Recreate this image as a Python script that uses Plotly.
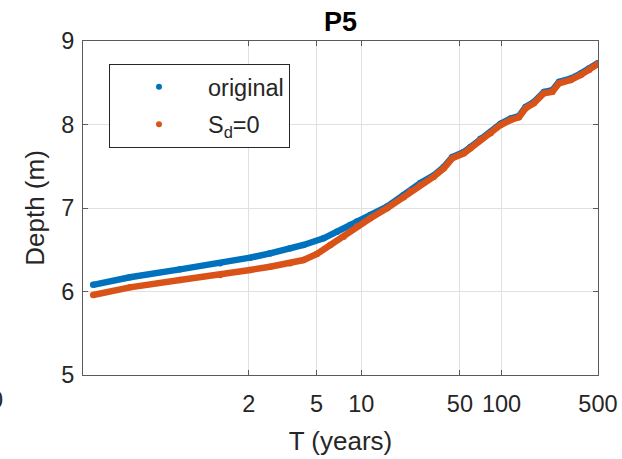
import math
import plotly.graph_objects as go

# Return-period tick labels (x axis is Gumbel reduced variate)
T_ticks = [2, 5, 10, 50, 100, 500]
T_tick_labels = ["2", "5", "10", "50", "100", "500"]

# Series "original" (reduced variate, depth in m)
orig_u = [-2.24, -1.625, -0.786, -0.115, 0.389, 0.724, 1.06, 1.283, 1.619, 1.843,
          2.067, 2.179, 2.402, 2.682, 2.961, 3.241, 3.464, 3.632, 3.773, 3.968,
          4.08, 4.248, 4.416, 4.584, 4.751, 4.891, 5.003, 5.142, 5.31, 5.451,
          5.562, 5.758, 5.926, 6.065, 6.214]
orig_depth = [6.08, 6.17, 6.265, 6.337, 6.405, 6.457, 6.517, 6.557, 6.637, 6.717,
              6.797, 6.837, 6.917, 7.017, 7.157, 7.30, 7.39, 7.49, 7.61, 7.67,
              7.73, 7.83, 7.91, 8.01, 8.07, 8.10, 8.21, 8.27, 8.39, 8.41,
              8.51, 8.55, 8.61, 8.67, 8.735]

# Series "S_d=0"
sd0_u = [-2.24, -1.625, -0.786, -0.115, 0.389, 0.724, 1.06, 1.283, 1.508, 1.731,
         1.954, 2.179, 2.402, 2.682, 2.961, 3.073, 3.241, 3.464, 3.632, 3.773,
         3.968, 4.08, 4.248, 4.416, 4.584, 4.751, 4.891, 5.003, 5.142, 5.31,
         5.451, 5.562, 5.758, 5.926, 6.065, 6.214]
sd0_depth = [5.958, 6.05, 6.138, 6.198, 6.258, 6.297, 6.337, 6.377, 6.449, 6.557,
             6.657, 6.777, 6.877, 6.997, 7.13, 7.2, 7.275, 7.375, 7.475, 7.595,
             7.655, 7.715, 7.815, 7.895, 7.994, 8.054, 8.086, 8.194, 8.254, 8.374,
             8.393, 8.494, 8.533, 8.593, 8.653, 8.725]

BLUE = "#0072BD"
ORANGE = "#D95319"
FONT = "Liberation Sans, Arial, sans-serif"
INK = "#262626"


def gumbel(T):
    return -math.log(-math.log(1.0 - 1.0 / T))


tick_vals = [gumbel(T) for T in T_ticks]

fig = go.Figure()
for u, d, c in [(orig_u, orig_depth, BLUE), (sd0_u, sd0_depth, ORANGE)]:
    fig.add_trace(go.Scatter(x=u, y=d, mode="lines+markers", showlegend=False,
                             line=dict(color=c, width=6.5),
                             marker=dict(color=c, size=6.5)))
# legend entries
for name, c, g in [("original", BLUE, "a"), ("S<sub>d</sub>=0", ORANGE, "b")]:
    fig.add_trace(go.Scatter(x=[None], y=[None], mode="markers", name=name,
                             legendgroup=g, marker=dict(color=c, size=6)))

axis_common = dict(showline=True, linecolor="#5a5a5a", linewidth=1, mirror="ticks",
                   ticks="inside", ticklen=5, tickcolor="#5a5a5a",
                   showgrid=True, gridcolor="#e0e0e0", gridwidth=1, zeroline=False,
                   tickfont=dict(family=FONT, size=23.5, color=INK))

fig.update_xaxes(range=[-2.41, 6.215], tickmode="array", tickvals=tick_vals,
                 ticktext=T_tick_labels, ticklabelstandoff=8,
                 title=dict(text="T (years)", font=dict(family=FONT, size=26, color=INK), standoff=15),
                 **axis_common)
fig.update_yaxes(range=[5, 9], tickmode="array", tickvals=[5, 6, 7, 8, 9],
                 ticktext=["5", "6", "7", "8", "9"], ticklabelstandoff=3,
                 title=dict(text="Depth (m)", font=dict(family=FONT, size=26, color=INK), standoff=9),
                 **axis_common)

fig.update_layout(
    width=622, height=459,
    margin=dict(l=83, r=24, t=41, b=84, autoexpand=False),
    paper_bgcolor="white", plot_bgcolor="white",
    title=dict(text="<b>P5</b>", x=0.5, xref="paper", y=1 - 22 / 459, yref="container",
               yanchor="middle", xanchor="center",
               font=dict(family=FONT, size=27, color="black")),
    legend=dict(x=(109 - 83) / 515, y=(375 - 64) / 334, xanchor="left", yanchor="top",
                bgcolor="white", bordercolor=INK, borderwidth=1,
                font=dict(family=FONT, size=23.5, color=INK),
                itemwidth=88, tracegroupgap=4, entrywidth=102),
    annotations=[dict(text="0", xref="paper", yref="paper", x=(-4 - 83) / 515,
                      y=(375 - 400) / 334, xanchor="center", yanchor="middle",
                      showarrow=False,
                      font=dict(family=FONT, size=23.5, color=INK))],
)

fig.write_html("out.html", config={"displayModeBar": False},
               post_script="document.body.style.margin='0';document.body.style.padding='0';")
